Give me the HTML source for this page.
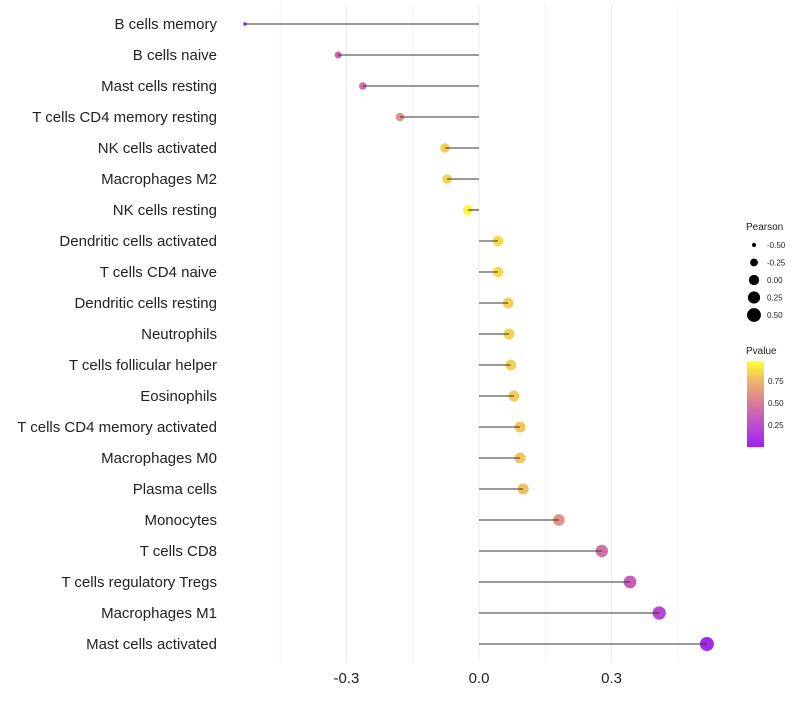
<!DOCTYPE html>
<html><head><meta charset="utf-8"><style>
body{margin:0;background:#fff;font-family:"Liberation Sans",sans-serif}
svg text{font-family:"Liberation Sans",sans-serif}
</style></head><body>
<svg id="c" width="800" height="700">
<defs><linearGradient id="pg" x1="0" y1="1" x2="0" y2="0">
<stop offset="0" stop-color="#a020f0"/><stop offset="0.25" stop-color="#bb4cd0"/><stop offset="0.5" stop-color="#d8789e"/><stop offset="0.75" stop-color="#eeb06c"/><stop offset="1" stop-color="#ffff30"/></linearGradient></defs>
<g id="grid"></g><g id="marks"></g><g id="labels"></g>
</svg>
<script>
const categories=["B cells memory","B cells naive","Mast cells resting","T cells CD4 memory resting","NK cells activated","Macrophages M2","NK cells resting","Dendritic cells activated","T cells CD4 naive","Dendritic cells resting","Neutrophils","T cells follicular helper","Eosinophils","T cells CD4 memory activated","Macrophages M0","Plasma cells","Monocytes","T cells CD8","T cells regulatory  Tregs ","Macrophages M1","Mast cells activated"];
const pearson=[-0.530,-0.319,-0.263,-0.179,-0.077,-0.072,-0.025,0.043,0.043,0.066,0.068,0.072,0.079,0.093,0.093,0.100,0.181,0.278,0.342,0.408,0.516];
const pvalue=[0.02,0.38,0.45,0.62,0.85,0.86,0.97,0.88,0.88,0.85,0.86,0.85,0.83,0.82,0.82,0.80,0.62,0.45,0.35,0.22,0.05];
const xTicks=[-0.3,0,0.3];
const xTickLabels=["-0.3","0.0","0.3"];
const sizeLegend=[-0.5,-0.25,0,0.25,0.5];
const NS="http://www.w3.org/2000/svg";
const x=v=>479+v*441.7;
const y=i=>24+i*31;
const r=v=>7*Math.sqrt(Math.max(0.02,(v+0.6)/1.12));
function mix(a,b,t){return a.map((c,i)=>Math.round(c+(b[i]-c)*t));}
const stops=[[0,[160,32,240]],[0.25,[187,76,208]],[0.5,[216,120,158]],[0.75,[238,176,108]],[1,[255,255,48]]];
function col(p){for(let i=0;i<stops.length-1;i++){if(p<=stops[i+1][0]){const t=(p-stops[i][0])/(stops[i+1][0]-stops[i][0]);const c=mix(stops[i][1],stops[i+1][1],t);return `rgb(${c})`;}}return "rgb(255,255,48)";}
function el(tag,attrs,parent){const e=document.createElementNS(NS,tag);for(const k in attrs)e.setAttribute(k,attrs[k]);parent.appendChild(e);return e;}
const grid=document.getElementById('grid'),marks=document.getElementById('marks'),labels=document.getElementById('labels');
for(let k=-3;k<=3;k++){const v=k*0.15;const g=el('line',{x1:x(v),x2:x(v),y1:5,y2:662,stroke:k%2===0?'#ebebeb':'#f4f4f4','stroke-width':1},grid);

}
xTicks.forEach((v,i)=>{const t=el('text',{x:x(v),y:683,'text-anchor':'middle','font-size':15,fill:'#222'},labels);t.textContent=xTickLabels[i];

});
categories.forEach((c,i)=>{
const t=el('text',{x:217,y:y(i)+5,'text-anchor':'end','font-size':15,fill:'#222'},labels);t.textContent=c;


const d=el('circle',{cx:x(pearson[i]),cy:y(i),r:r(pearson[i]),fill:col(pvalue[i])},marks);


const l=el('line',{x1:x(0),x2:x(pearson[i]),y1:y(i),y2:y(i),stroke:'#333','stroke-width':1.1},marks);


});
const lt=el('text',{x:746,y:230,'font-size':10,fill:'#222'},labels);lt.textContent='Pearson';


sizeLegend.forEach((v,i)=>{const cy=245+i*17.5;
const c=el('circle',{cx:754,cy:cy,r:r(v),fill:'#000'},labels);


const t=el('text',{x:767,y:cy+3,'font-size':8,fill:'#222'},labels);t.textContent=v.toFixed(2);

});
const pt=el('text',{x:746,y:354,'font-size':10,fill:'#222'},labels);pt.textContent='Pvalue';


const bar=el('rect',{x:747,y:361,width:17,height:86,fill:'url(#pg)'},labels);


[0.25,0.5,0.75].forEach(v=>{const yy=447-v*86/0.98;
const t=el('text',{x:768,y:yy+3,'font-size':8,fill:'#222'},labels);t.textContent=v.toFixed(2);

});
</script>
</body></html>
